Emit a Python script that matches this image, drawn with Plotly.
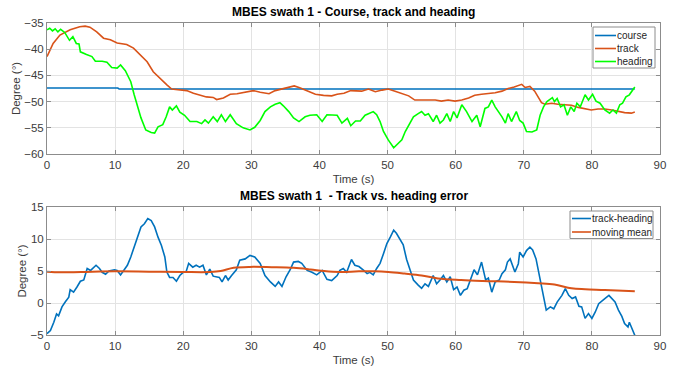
import plotly.graph_objects as go

# ---- Top panel data ----
course_t = [0, 10.4, 10.6, 86.3]
course = [-47.4, -47.4, -47.6, -47.6]

track_t = [0, 0.5, 0.9, 1.9, 2.6, 3.4, 4.8, 5.6, 6.3, 7.3, 8.3, 9.3, 10.3, 11.7, 12.7, 13.7,
           14.7, 15.6, 16.6, 17.6, 18.3, 19.5, 20.5, 21.5, 22.5, 23.4, 24.4, 24.9, 25.9, 26.9,
           27.9, 28.9, 30.3, 31.3, 32.6, 33.5, 34.5, 35.5, 36.3, 37.2, 38.2, 39.4, 40.6, 41.8,
           42.6, 43.6, 44.6, 45.5, 46.2, 47.2, 48.2, 49.2, 50.1, 51.1, 52.1, 53.1, 54.0, 55.0,
           56.0, 57.0, 57.9, 58.9, 59.9, 60.9, 61.9, 62.8, 63.8, 64.8, 65.8, 66.8, 67.7, 68.6,
           69.7, 70.2, 70.9, 71.6, 72.1, 72.6, 73.1, 74.1, 75.0, 76.0, 77.0, 78.0, 79.0, 79.9,
           80.9, 81.9, 82.9, 83.8, 84.8, 85.8, 86.3]
track = [-41.4, -40.0, -38.9, -37.3, -36.8, -36.3, -35.7, -35.6, -35.8, -36.7, -37.9, -38.2,
         -38.8, -39.1, -39.8, -41.1, -42.4, -44.3, -45.6, -46.8, -47.6, -47.7, -47.9, -48.4,
         -48.7, -49.1, -49.2, -49.6, -49.3, -48.6, -48.5, -48.2, -47.9, -48.2, -48.5, -47.9,
         -47.6, -47.3, -47.0, -47.4, -47.9, -48.6, -48.8, -48.9, -48.6, -48.4, -47.9, -47.9,
         -48.0, -47.6, -48.1, -47.8, -47.6, -48.0, -48.4, -48.9, -49.7, -49.7, -49.6, -49.7,
         -49.9, -49.7, -49.9, -49.7, -49.3, -48.8, -48.6, -48.5, -48.3, -48.0, -47.5, -47.2,
         -46.7, -47.3, -47.1, -48.0, -49.0, -50.2, -50.5, -50.3, -50.5, -50.6, -50.7, -51.1,
         -51.4, -51.6, -51.4, -51.4, -51.6, -51.9, -52.1, -52.2, -52.0]

heading_t = [0.0, 0.4, 0.8, 1.2, 1.6, 2.0, 2.6, 3.3, 3.8, 4.3, 4.7, 4.9, 5.8, 6.6, 7.1, 8.1,
             8.8, 9.5, 10.3, 10.8, 11.5, 12.3, 12.8, 13.3, 13.8, 14.5, 15.3, 15.8, 16.3, 17.0,
             17.5, 18.0, 18.4, 19.0, 19.5, 20.2, 21.0, 22.0, 22.7, 23.2, 23.7, 24.4, 25.0, 25.6,
             26.2, 26.9, 27.8, 28.8, 29.8, 30.5, 31.3, 32.0, 32.8, 33.5, 34.2, 34.7, 35.5, 36.2,
             37.0, 37.9, 38.6, 39.6, 40.4, 41.1, 41.8, 42.6, 43.3, 44.1, 44.6, 45.3, 46.0, 46.7,
             47.2, 47.9, 48.4, 48.9, 49.4, 50.1, 50.9, 51.3, 52.1, 52.6, 53.1, 53.8, 54.5, 55.0,
             55.5, 56.0, 56.7, 57.2, 57.7, 58.2, 58.7, 59.2, 59.7, 60.2, 60.9, 61.6, 62.4, 63.1,
             63.6, 64.3, 64.8, 65.3, 65.8, 66.3, 66.8, 67.3, 67.7, 68.2, 68.9, 69.4, 69.9, 70.4,
             71.2, 71.9, 72.4, 72.9, 73.4, 74.2, 74.5, 74.9, 75.4, 75.9, 76.4, 76.9, 77.4, 77.8,
             78.3, 79.0, 79.5, 80.1, 80.6, 81.2, 81.9, 82.6, 83.1, 83.6, 84.1, 84.5, 85.0, 85.5,
             86.3]
heading = [-36.3, -36.0, -36.5, -36.1, -36.7, -36.2, -36.8, -38.3, -37.6, -38.9, -39.0, -40.5,
           -41.0, -41.4, -42.3, -42.3, -42.5, -43.5, -43.6, -43.0, -44.1, -46.2, -48.7, -51.0,
           -53.1, -55.4, -55.9, -56.0, -54.8, -54.4, -52.9, -51.0, -51.6, -50.8, -52.0, -52.6,
           -53.8, -53.8, -54.2, -53.5, -54.1, -52.9, -53.8, -52.5, -53.8, -52.5, -54.2, -55.0,
           -55.4, -54.9, -53.6, -51.9, -51.0, -50.5, -50.2, -50.8, -51.9, -53.1, -53.8, -52.9,
           -52.6, -52.5, -53.8, -52.5, -52.6, -52.6, -54.1, -53.2, -54.6, -53.7, -53.7, -52.6,
           -52.3, -51.9, -52.5, -53.8, -55.7, -57.3, -58.8, -58.3, -57.3, -55.7, -54.5, -52.9,
           -52.3, -51.9, -52.6, -52.3, -53.8, -52.6, -54.1, -53.5, -52.3, -53.8, -51.9, -53.1,
           -50.6, -51.9, -53.8, -52.6, -54.8, -51.3, -51.0, -49.7, -51.0, -51.9, -52.9, -54.1,
           -52.3, -53.8, -51.9, -53.6, -54.1, -55.7, -55.8, -55.4, -52.6, -51.0, -50.0, -49.25,
           -50.0, -49.4, -51.0, -50.6, -52.6, -51.0, -51.9, -50.3, -51.0, -48.7, -49.7, -48.6,
           -49.9, -50.3, -51.6, -52.2, -51.6, -52.2, -50.6, -50.3, -49.1, -48.7, -47.2]

# ---- Bottom panel data ----
err_t = [0.0, 0.5, 1.0, 1.4, 1.7, 2.2, 2.7, 3.2, 3.4, 3.9, 4.4, 4.9, 5.4, 5.9, 6.4, 7.2, 7.7,
         8.1, 8.6, 9.1, 9.9, 10.3, 10.8, 11.3, 11.8, 12.3, 12.8, 13.3, 13.8, 14.3, 14.8, 15.3,
         15.8, 16.3, 16.8, 17.3, 17.6, 18.0, 18.5, 19.0, 19.5, 20.0, 20.4, 20.8, 21.4, 21.9,
         22.4, 22.9, 23.4, 23.9, 24.4, 25.3, 25.7, 26.2, 26.6, 27.1, 27.8, 28.3, 29.1, 29.8,
         30.5, 31.3, 32.0, 32.8, 33.5, 34.0, 34.5, 35.1, 35.7, 36.2, 36.9, 37.4, 38.2, 38.9,
         39.6, 40.4, 41.1, 41.8, 42.6, 43.0, 43.5, 44.0, 44.7, 45.2, 45.8, 46.5, 47.0, 47.4,
         47.9, 48.4, 48.9, 49.4, 49.9, 50.4, 50.9, 51.3, 51.8, 52.3, 52.8, 53.3, 53.8, 54.5,
         55.0, 55.5, 56.0, 56.7, 57.2, 57.7, 58.2, 58.7, 59.2, 59.7, 60.2, 60.7, 61.2, 61.7,
         62.2, 62.7, 63.2, 63.8, 64.4, 64.8, 65.3, 65.8, 66.4, 66.8, 67.3, 67.6, 68.0, 68.3,
         68.7, 69.2, 69.4, 69.9, 70.4, 70.9, 71.3, 71.8, 72.4, 72.8, 73.3, 73.9, 74.4, 74.9,
         75.6, 76.1, 76.6, 77.1, 77.6, 78.1, 78.5, 79.0, 79.5, 80.0, 80.5, 81.0, 81.5, 81.9,
         82.5, 82.9, 83.4, 83.9, 84.4, 84.8, 85.3, 85.5, 86.0, 86.3]
err = [-4.8, -4.3, -3.0, -1.7, -2.0, -0.6, 0.2, 0.9, 2.1, 1.7, 2.5, 3.4, 3.6, 5.4, 5.1, 5.9,
       5.4, 4.8, 4.5, 5.0, 5.2, 5.1, 4.4, 5.1, 5.9, 7.2, 8.75, 10.6, 11.9, 12.4, 13.2, 12.9,
       11.9, 10.3, 9.0, 7.2, 4.85, 4.0, 4.0, 3.4, 4.3, 4.8, 4.8, 6.2, 5.6, 5.9, 5.6, 5.9, 4.4,
       5.3, 4.2, 4.0, 3.3, 4.3, 3.6, 4.3, 5.2, 6.7, 6.9, 7.45, 7.2, 6.2, 4.3, 3.3, 2.6, 3.3,
       2.6, 4.1, 5.2, 6.4, 6.5, 6.2, 5.1, 4.8, 4.4, 5.1, 3.7, 3.5, 4.3, 5.1, 5.4, 4.8, 6.8,
       5.9, 5.7, 5.1, 4.6, 4.8, 4.4, 5.4, 6.2, 7.7, 9.3, 10.3, 11.4, 10.9, 10.1, 9.1, 6.8, 5.2,
       3.6, 2.8, 2.3, 3.0, 2.6, 4.3, 3.0, 3.6, 4.3, 3.3, 4.1, 2.1, 2.5, 1.2, 2.0, 2.25, 3.8,
       5.2, 4.4, 6.4, 3.6, 3.9, 1.7, 3.3, 3.6, 4.6, 5.2, 6.4, 6.9, 5.9, 4.85, 6.15, 7.95, 7.2,
       8.2, 8.75, 8.3, 6.9, 3.55, 1.7, -1.1, -0.6, -0.9, 0.15, 1.2, 2.25, 1.2, 0.7, 0.95, -0.5,
       -0.6, -2.4, -1.65, -2.4, -1.4, -0.1, 0.4, 0.7, 1.2, 0.7, 0.15, -1.1, -2.1, -3.2, -3.75,
       -3.0, -4.3, -5.05]

mean_t = [0, 2, 5, 10, 15, 20, 24, 25.5, 27.4, 29.8, 33, 36.2, 38.7, 40.7, 43, 45.8, 48,
          50.1, 52.5, 55, 57.4, 60.8, 64, 68.6, 72.1, 74.5, 77, 79, 81.9, 86.3]
mean = [4.9, 4.8, 4.85, 4.95, 4.9, 4.85, 4.85, 5.0, 5.5, 5.65, 5.6, 5.5, 5.25, 5.0, 4.85,
        4.95, 4.95, 4.85, 4.6, 4.3, 3.85, 3.6, 3.45, 3.3, 3.1, 2.9, 2.3, 2.15, 2.05, 1.85]

top_names = ["course", "track", "heading"]
bottom_names = ["track-heading", "moving mean"]

BLUE = "#0072BD"
ORANGE = "#D95319"
GREEN = "#00FF00"
FONT = "Liberation Sans, Arial, sans-serif"
AXC = "#8c8c8c"
TXT = "#3c3c3c"

fig = go.Figure()
fig.add_trace(go.Scatter(x=course_t, y=course, mode="lines", name=top_names[0],
                         line=dict(color=BLUE, width=1.6), xaxis="x", yaxis="y"))
fig.add_trace(go.Scatter(x=track_t, y=track, mode="lines", name=top_names[1],
                         line=dict(color=ORANGE, width=1.6), xaxis="x", yaxis="y"))
fig.add_trace(go.Scatter(x=heading_t, y=heading, mode="lines", name=top_names[2],
                         line=dict(color=GREEN, width=1.6), xaxis="x", yaxis="y"))
fig.add_trace(go.Scatter(x=err_t, y=err, mode="lines", name=bottom_names[0],
                         line=dict(color=BLUE, width=1.6), xaxis="x2", yaxis="y2"))
fig.add_trace(go.Scatter(x=mean_t, y=mean, mode="lines", name=bottom_names[1],
                         line=dict(color=ORANGE, width=2, shape="spline"), xaxis="x2", yaxis="y2"))

W, H = 678, 375
ML, MR, MT, MB = 47, 18, 23, 40
PW, PH = W - ML - MR, H - MT - MB


def px_x(px):
    return (px - ML) / PW


def px_y(py):
    return (H - MB - py) / PH


shapes = []
annotations = []


def add_legend(names, colors, left, top, right, bottom, line_x0, line_x1, text_x, ys):
    shapes.append(dict(type="rect", xref="paper", yref="paper",
                       x0=px_x(left), x1=px_x(right), y0=px_y(bottom), y1=px_y(top),
                       line=dict(color=AXC, width=1), fillcolor="white", layer="above"))
    for name, col, yy in zip(names, colors, ys):
        shapes.append(dict(type="line", xref="paper", yref="paper",
                           x0=px_x(line_x0), x1=px_x(line_x1), y0=px_y(yy), y1=px_y(yy),
                           line=dict(color=col, width=1.6), layer="above"))
        annotations.append(dict(text=name, x=px_x(text_x), y=px_y(yy), xref="paper", yref="paper",
                                xanchor="left", yanchor="middle", showarrow=False,
                                font=dict(family=FONT, size=10, color="#262626")))


add_legend(top_names, [BLUE, ORANGE, GREEN], 593, 27, 655, 68, 595, 616, 615, [35.5, 48.5, 61.5])
add_legend(bottom_names, [BLUE, ORANGE], 570, 211, 653, 238.5, 572, 591, 590, [218.5, 232])

annotations += [
    dict(text="<b>MBES swath 1 - Course, track and heading</b>", x=0.5, y=1.0,
         xref="paper", yref="paper", xanchor="center", yanchor="bottom", yshift=2,
         showarrow=False, font=dict(family=FONT, size=12, color="black")),
    dict(text="<b>MBES swath 1  - Track vs. heading error</b>", x=0.5, y=0.41,
         xref="paper", yref="paper", xanchor="center", yanchor="bottom", yshift=2,
         showarrow=False, font=dict(family=FONT, size=12, color="black")),
]

axcommon = dict(showline=True, linecolor=AXC, linewidth=1, mirror="ticks",
                ticks="inside", ticklen=4, tickcolor=AXC, showgrid=True,
                gridcolor="#e3e3e3", gridwidth=1, zeroline=False, automargin=False,
                tickfont=dict(family=FONT, size=11.5, color=TXT))
xcommon = dict(axcommon, range=[0, 90], dtick=10, tick0=0,
               title=dict(text="Time (s)", font=dict(family=FONT, size=11.5, color=TXT),
                          standoff=5))
ytitle = dict(text="Degree (°)", font=dict(family=FONT, size=11.5, color=TXT), standoff=1)

fig.update_layout(
    width=W, height=H,
    margin=dict(l=ML, r=MR, t=MT, b=MB),
    paper_bgcolor="white", plot_bgcolor="white",
    showlegend=False,
    xaxis=dict(xcommon, domain=[0, 1], anchor="y"),
    yaxis=dict(axcommon, domain=[0.58, 1.0], range=[-60, -35], dtick=5, anchor="x",
               title=ytitle),
    xaxis2=dict(xcommon, domain=[0, 1], anchor="y2"),
    yaxis2=dict(axcommon, domain=[0, 0.41], range=[-5, 15], dtick=5, anchor="x2",
                title=ytitle),
    shapes=shapes,
    annotations=annotations,
)

fig.write_html("out.html")
